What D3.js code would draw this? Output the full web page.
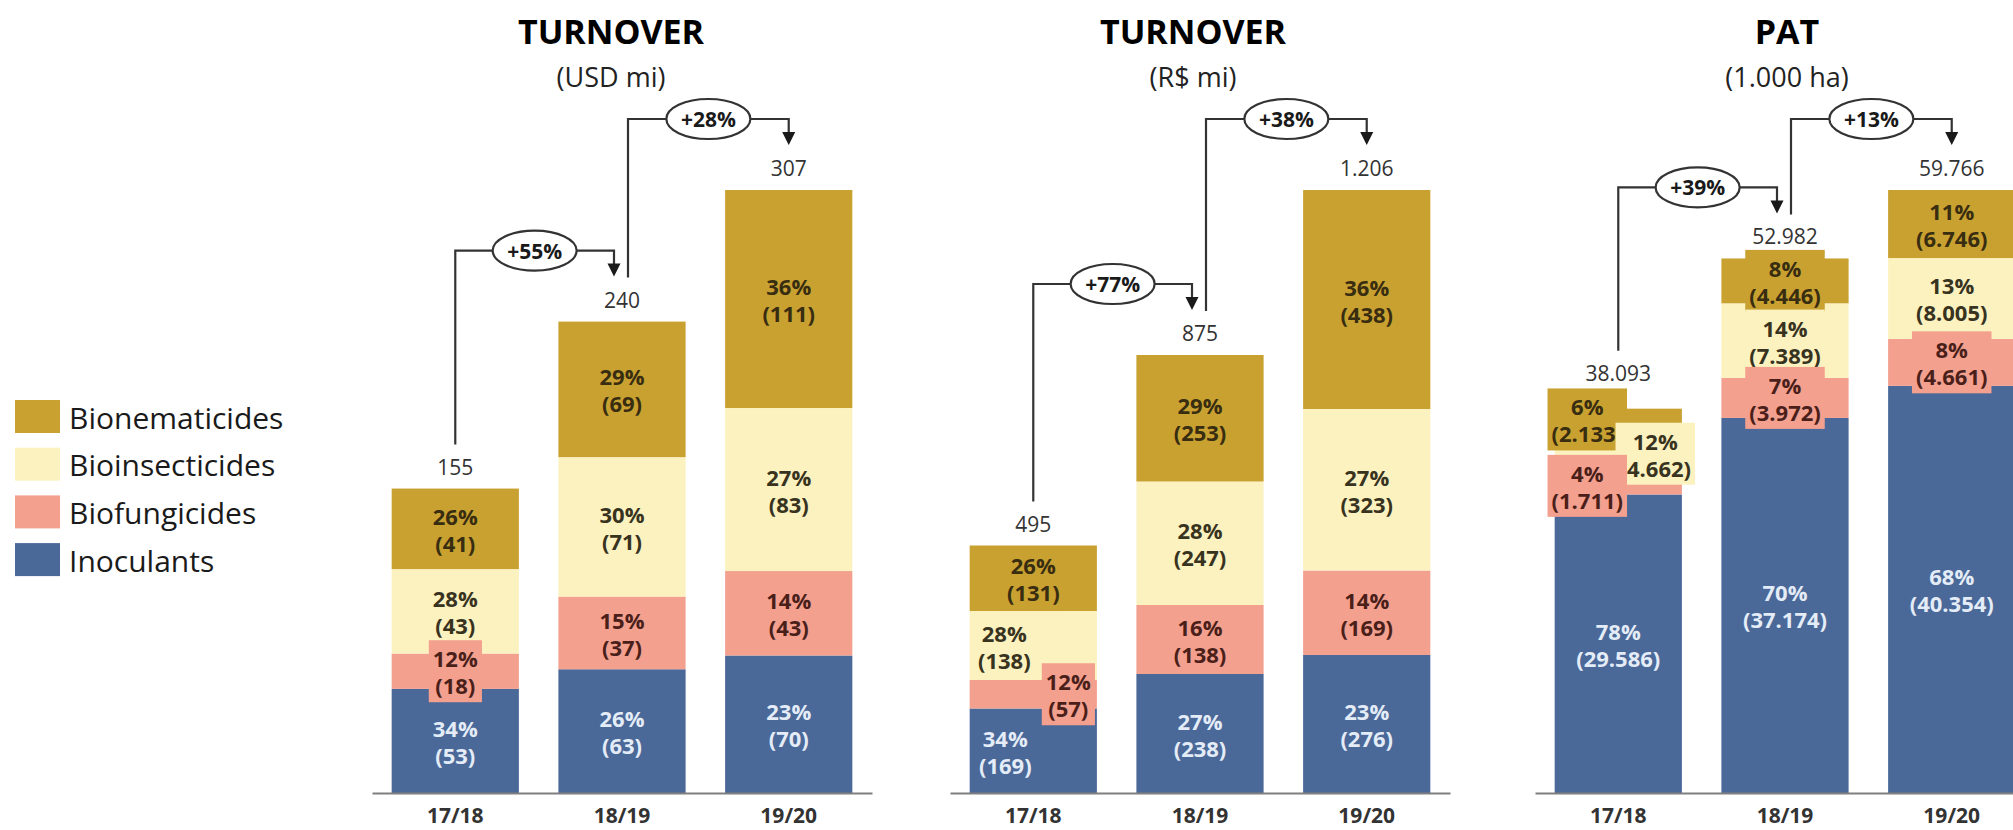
<!DOCTYPE html>
<html>
<head>
<meta charset="utf-8">
<script src="https://cdn.jsdelivr.net/npm/d3@7"></script>
<style>
  body { margin: 0; background: #fff; }
  svg { display: block; font-family: "Open Sans", sans-serif; }
</style>
</head>
<body>
<svg id="chart" width="2013" height="830"></svg>
<script>
// ---- data ----
const years = ["17/18", "18/19", "19/20"]
const seriesNames = ["Inoculants", "Biofungicides", "Bioinsecticides", "Bionematicides"]
const legendNames = ["Bionematicides", "Bioinsecticides", "Biofungicides", "Inoculants"]

// turnover, USD mi
const usdInoculants = [53, 63, 70]
const usdBiofungicides = [18, 37, 43]
const usdBioinsecticides = [43, 71, 83]
const usdBionematicides = [41, 69, 111]
const usdPctInoculants = [34, 26, 23]
const usdPctBiofungicides = [12, 15, 14]
const usdPctBioinsecticides = [28, 30, 27]
const usdPctBionematicides = [26, 29, 36]
const usdTotals = ["155", "240", "307"]
const usdGrowth = ["+55%", "+28%"]

// turnover, R$ mi
const brlInoculants = [169, 238, 276]
const brlBiofungicides = [57, 138, 169]
const brlBioinsecticides = [138, 247, 323]
const brlBionematicides = [131, 253, 438]
const brlPctInoculants = [34, 27, 23]
const brlPctBiofungicides = [12, 16, 14]
const brlPctBioinsecticides = [28, 28, 27]
const brlPctBionematicides = [26, 29, 36]
const brlTotals = ["495", "875", "1.206"]
const brlGrowth = ["+77%", "+38%"]

// PAT, 1.000 ha
const patInoculants = [29586, 37174, 40354]
const patBiofungicides = [1711, 3972, 4661]
const patBioinsecticides = [4662, 7389, 8005]
const patBionematicides = [2133, 4446, 6746]
const patPctInoculants = [78, 70, 68]
const patPctBiofungicides = [4, 7, 8]
const patPctBioinsecticides = [12, 14, 13]
const patPctBionematicides = [6, 8, 11]
const patTotals = ["38.093", "52.982", "59.766"]
const patGrowth = ["+39%", "+13%"]

const colors = {
  Bionematicides: "#c9a130",
  Bioinsecticides: "#fcf2c0",
  Biofungicides: "#f3a08f",
  Inoculants: "#4a6898"
}
const labelColors = {
  Bionematicides: "#382d10",
  Bioinsecticides: "#38331e",
  Biofungicides: "#4a1f1a",
  Inoculants: "#e4ecf7"
}

const fmt = d3.formatLocale({ decimal: ",", thousands: ".", grouping: [3], currency: ["", ""] }).format(",d")

const panels = [
  {
    title: "TURNOVER", sub: "(USD mi)", x0: 372, titleX: 611,
    values: [usdInoculants, usdBiofungicides, usdBioinsecticides, usdBionematicides],
    pcts: [usdPctInoculants, usdPctBiofungicides, usdPctBioinsecticides, usdPctBionematicides],
    totals: usdTotals, growth: usdGrowth,
    labelDx: {}, lift: [0, 0, 0]
  },
  {
    title: "TURNOVER", sub: "(R$ mi)", x0: 950, titleX: 1193,
    values: [brlInoculants, brlBiofungicides, brlBioinsecticides, brlBionematicides],
    pcts: [brlPctInoculants, brlPctBiofungicides, brlPctBioinsecticides, brlPctBionematicides],
    totals: brlTotals, growth: brlGrowth,
    labelDx: { "0-Bioinsecticides": -29, "0-Biofungicides": 35, "0-Inoculants": -28 }, lift: [0, 0, 0]
  },
  {
    title: "PAT", sub: "(1.000 ha)", x0: 1535, titleX: 1787,
    values: [patInoculants, patBiofungicides, patBioinsecticides, patBionematicides],
    pcts: [patPctInoculants, patPctBiofungicides, patPctBioinsecticides, patPctBionematicides],
    totals: patTotals, growth: patGrowth,
    labelDx: { "0-Bionematicides": -31, "0-Bioinsecticides": 37, "0-Biofungicides": -31 }, lift: [14, 0, 0]
  }
]

const svg = d3.select("#chart")
const baseY = 793, topY = 190, panelW = 500

panels.forEach(p => {
  const rows = years.map((yr, i) => {
    const r = { year: yr, i: i }
    seriesNames.forEach((s, k) => { r[s] = p.values[k][i] })
    return r
  })
  const stacked = d3.stack().keys(seriesNames)(rows)
  const totals = rows.map(r => d3.sum(seriesNames, s => r[s]))

  const x = d3.scaleBand().domain(years).range([p.x0, p.x0 + panelW])
    .paddingInner(0.237).paddingOuter(0.118)
  const y = d3.scaleLinear().domain([0, d3.max(totals)]).range([baseY, topY])
  const bw = x.bandwidth()
  const cx = yr => x(yr) + bw / 2

  const g = svg.append("g")

  // titles
  g.append("text").attr("x", p.titleX).attr("y", 44)
    .attr("text-anchor", "middle").attr("font-size", 34).attr("font-weight", 700)
    .attr("fill", "#000").text(p.title)
  g.append("text").attr("x", p.titleX).attr("y", 87)
    .attr("text-anchor", "middle").attr("font-size", 27)
    .attr("fill", "#222").text(p.sub)

  // bars
  g.selectAll("g.series").data(stacked).join("g")
    .attr("fill", d => colors[d.key])
    .selectAll("rect").data(d => d).join("rect")
    .attr("x", d => x(d.data.year))
    .attr("y", d => y(d[1]))
    .attr("width", bw)
    .attr("height", d => y(d[0]) - y(d[1]))

  // segment labels, top series first so lower boxes sit on top
  stacked.slice().reverse().forEach(layer => {
    const k = seriesNames.indexOf(layer.key)
    layer.forEach((d, i) => {
      const dx = p.labelDx[i + "-" + layer.key] || 0
      const lx = cx(d.data.year) + dx
      const ly = (y(d[0]) + y(d[1])) / 2
      const lg = g.append("g").attr("transform", `translate(${lx},${ly})`)
      const box = lg.append("rect").attr("fill", colors[layer.key])
      const t = lg.append("text")
        .attr("text-anchor", "middle").attr("font-size", 22).attr("font-weight", 700)
        .attr("fill", labelColors[layer.key])
      t.append("tspan").attr("x", 0).attr("y", -13).attr("dominant-baseline", "central")
        .text(p.pcts[k][i] + "%")
      t.append("tspan").attr("x", 0).attr("y", 14).attr("dominant-baseline", "central")
        .text("(" + fmt(p.values[k][i]) + ")")
      const bb = t.node().getBBox()
      box.attr("x", bb.x - 4).attr("y", -31).attr("width", bb.width + 8).attr("height", 62)
    })
  })

  // totals above bars
  const labelY = rows.map((r, i) => y(totals[i]) - 22 - p.lift[i])
  g.selectAll("text.total").data(rows).join("text")
    .attr("class", "total")
    .attr("x", d => cx(d.year)).attr("y", (d, i) => labelY[i])
    .attr("text-anchor", "middle").attr("dominant-baseline", "central")
    .attr("font-size", 21).attr("fill", "#333")
    .text((d, i) => p.totals[i])

  // growth connectors
  p.growth.forEach((gr, k) => {
    const x1 = cx(years[k]) + (k === 1 ? 6 : 0)
    const x2 = cx(years[k + 1]) - (k === 0 ? 8 : 0)
    const startY = labelY[k] - 22
    const level = labelY[k + 1] - 49
    const tip = labelY[k + 1] - 23
    g.append("path")
      .attr("d", `M${x1},${startY}V${level}H${x2}V${tip - 10}`)
      .attr("fill", "none").attr("stroke", "#333").attr("stroke-width", 2.2)
    g.append("path")
      .attr("d", `M${x2 - 6.5},${tip - 13}L${x2 + 6.5},${tip - 13}L${x2},${tip}Z`)
      .attr("fill", "#1a1a1a")
    const ex = (x1 + x2) / 2
    g.append("ellipse").attr("cx", ex).attr("cy", level).attr("rx", 42).attr("ry", 20)
      .attr("fill", "#fff").attr("stroke", "#333").attr("stroke-width", 2.2)
    g.append("text").attr("x", ex).attr("y", level)
      .attr("text-anchor", "middle").attr("dominant-baseline", "central")
      .attr("font-size", 21).attr("font-weight", 700).attr("fill", "#1a1a1a")
      .text(gr)
  })

  // category axis
  const ax = g.append("g").attr("transform", `translate(0,${baseY})`)
    .call(d3.axisBottom(x).tickSize(0).tickPadding(15))
  ax.attr("font-family", null).attr("font-size", null)
  ax.select(".domain").attr("stroke", "#7f7f7f").attr("stroke-width", 2)
  ax.selectAll("text").attr("font-size", 21).attr("font-weight", 700).attr("fill", "#333")
})

// legend
const legend = svg.append("g").attr("transform", "translate(15,400)")
const li = legend.selectAll("g").data(legendNames).join("g")
  .attr("transform", (d, i) => `translate(0,${i * 47.7})`)
li.append("rect").attr("width", 45).attr("height", 33).attr("fill", d => colors[d])
li.append("text").attr("x", 54).attr("y", 17).attr("dominant-baseline", "central")
  .attr("font-size", 30).attr("fill", "#1a1a1a").text(d => d)
</script>
</body>
</html>
